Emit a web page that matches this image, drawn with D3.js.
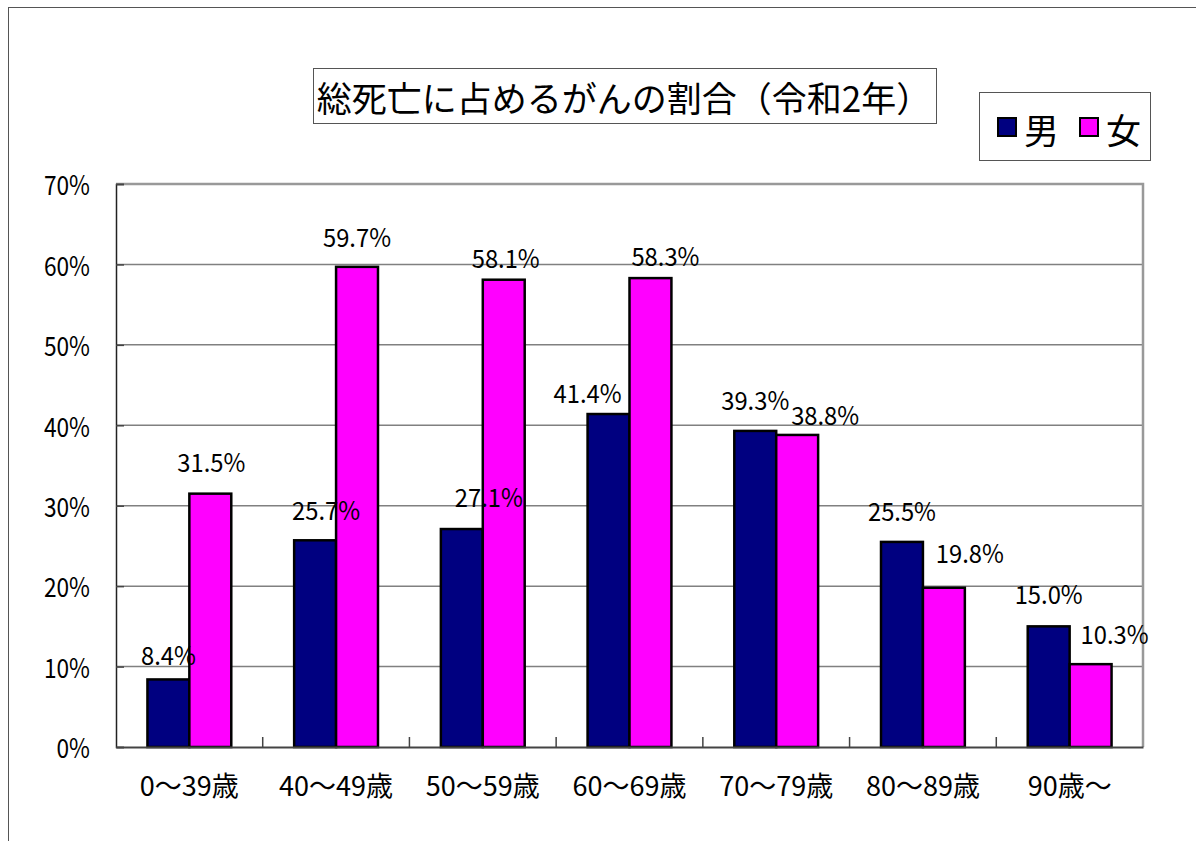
<!DOCTYPE html>
<html>
<head>
<meta charset="utf-8">
<script src="https://cdn.jsdelivr.net/npm/d3@7"></script>
<style>
  body { margin: 0; background: #fff; }
  svg { display: block; font-family: "Noto Sans CJK JP", sans-serif; }
</style>
</head>
<body>
<svg id="chart" width="1196" height="841"></svg>
<script>
// data
const ageGroups = ['0～39歳', '40～49歳', '50～59歳', '60～69歳', '70～79歳', '80～89歳', '90歳～'];
const seriesNames = ['男', '女'];
const maleShare = [8.4, 25.7, 27.1, 41.4, 39.3, 25.5, 15.0];
const femaleShare = [31.5, 59.7, 58.1, 58.3, 38.8, 19.8, 10.3];
const yTicks = [0, 10, 20, 30, 40, 50, 60, 70];
const titleText = '総死亡に占めるがんの割合（令和2年）';

const colors = { '男': '#000080', '女': '#ff00ff' };

// labels were nudged by hand in the original, [dx, gap above bar]
const labelNudge = {
  '男': [[0, 14], [11, 20], [27, 22], [-21, 11], [0, 21], [0, 21], [0, 22]],
  '女': [[1, 22], [0, 20], [2, 12], [15, 12], [28, 10], [26, 25], [24, 20]]
};

// the original font has narrow digits, squeeze ours a bit
function squeeze(sel, k) {
  sel.each(function () {
    const len = this.getComputedTextLength();
    d3.select(this)
      .attr('textLength', len * k)
      .attr('lengthAdjust', 'spacingAndGlyphs');
  });
}

const svg = d3.select('#chart');

// outer frame (only top and left edge visible)
svg.append('line').attr('x1', 8).attr('y1', 7.5).attr('x2', 1196).attr('y2', 7.5)
  .style('stroke', '#555').style('stroke-width', 1);
svg.append('line').attr('x1', 8.5).attr('y1', 7).attr('x2', 8.5).attr('y2', 841)
  .style('stroke', '#555').style('stroke-width', 1);

const plot = { left: 116, right: 1143, top: 184, bottom: 747 };

const x = d3.scaleBand()
  .domain(ageGroups)
  .range([plot.left, plot.right])
  .padding(0);
const xSeries = d3.scaleBand()
  .domain(seriesNames)
  .range([0, x.bandwidth()])
  .paddingInner(0)
  .paddingOuter(0.75);
const y = d3.scaleLinear()
  .domain([0, 70])
  .range([plot.bottom, plot.top]);

// gridlines
svg.append('g').selectAll('line')
  .data(yTicks.filter(t => t > 0 && t < 70))
  .enter().append('line')
  .attr('x1', plot.left).attr('x2', plot.right)
  .attr('y1', d => y(d)).attr('y2', d => y(d))
  .style('stroke', '#808080')
  .style('stroke-width', 1.5);

// top / right border of plot area
svg.append('path')
  .attr('d', `M${plot.left},${plot.top}H${plot.right}V${plot.bottom}`)
  .style('fill', 'none')
  .style('stroke', '#999')
  .style('stroke-width', 2.5);

// y axis
const yAxis = d3.axisLeft(y)
  .tickValues(yTicks)
  .tickSize(-8)
  .tickPadding(26)
  .tickFormat(d => d + '%');
svg.append('g')
  .attr('transform', `translate(${plot.left},0)`)
  .call(yAxis)
  .call(g => g.select('.domain').style('stroke', '#222').style('stroke-width', 1.5))
  .call(g => g.selectAll('.tick line').style('stroke', '#444').style('stroke-width', 1.5))
  .call(g => g.selectAll('.tick text')
    .attr('dy', '0.4em')
    .style('font-family', '"Noto Sans CJK JP", sans-serif')
    .style('font-size', '27px')
    .style('fill', '#000')
    .call(squeeze, 0.84));

// bars
const groups = svg.append('g').selectAll('g')
  .data(ageGroups)
  .enter().append('g')
  .attr('transform', d => `translate(${x(d)},0)`);

const barData = (d, i) => seriesNames.map(s => ({
  series: s,
  value: s === '男' ? maleShare[i] : femaleShare[i],
  nudge: labelNudge[s][i]
}));

groups.selectAll('rect')
  .data(barData)
  .enter().append('rect')
  .attr('x', d => xSeries(d.series))
  .attr('y', d => y(d.value))
  .attr('width', xSeries.bandwidth())
  .attr('height', d => y(0) - y(d.value))
  .attr('fill', d => colors[d.series])
  .style('stroke', '#000')
  .style('stroke-width', 2.5);

groups.selectAll('text')
  .data(barData)
  .enter().append('text')
  .attr('x', d => xSeries(d.series) + xSeries.bandwidth() / 2 + d.nudge[0])
  .attr('y', d => y(d.value) - d.nudge[1])
  .attr('text-anchor', 'middle')
  .style('font-size', '25px')
  .text(d => d.value.toFixed(1) + '%')
  .call(squeeze, 0.95);

// x axis
const xAxis = d3.axisBottom(x)
  .tickSize(0)
  .tickPadding(30);
svg.append('g')
  .attr('transform', `translate(0,${plot.bottom})`)
  .call(xAxis)
  .call(g => g.select('.domain').style('stroke', '#444').style('stroke-width', 2))
  .call(g => g.selectAll('.tick text')
    .style('font-family', '"Noto Sans CJK JP", sans-serif')
    .style('font-size', '27px')
    .style('fill', '#000'));

// category separator ticks, pointing up into the plot
svg.append('g').selectAll('line')
  .data(ageGroups.slice(1))
  .enter().append('line')
  .attr('x1', d => x(d)).attr('x2', d => x(d))
  .attr('y1', plot.bottom).attr('y2', plot.bottom - 10)
  .style('stroke', '#444')
  .style('stroke-width', 1.5);

// title box
svg.append('rect')
  .attr('x', 313.5).attr('y', 68.5).attr('width', 623).attr('height', 55)
  .attr('fill', '#fff')
  .style('stroke', '#555');
svg.append('text')
  .attr('x', 624).attr('y', 96)
  .attr('text-anchor', 'middle')
  .attr('dominant-baseline', 'central')
  .style('font-size', '35px')
  .text(titleText);

// legend
const legend = svg.append('g');
legend.append('rect')
  .attr('x', 979.5).attr('y', 92.5).attr('width', 171).attr('height', 68)
  .attr('fill', '#fff')
  .style('stroke', '#555');
const legendItem = legend.selectAll('g.item')
  .data(seriesNames)
  .enter().append('g')
  .attr('class', 'item')
  .attr('transform', (d, i) => `translate(${998 + i * 82},0)`);
legendItem.append('rect')
  .attr('x', 0).attr('y', 118).attr('width', 18).attr('height', 18)
  .attr('fill', d => colors[d])
  .style('stroke', '#000')
  .style('stroke-width', 2);
legendItem.append('text')
  .attr('x', 26).attr('y', 128)
  .attr('dominant-baseline', 'central')
  .style('font-size', '35px')
  .text(d => d);
</script>
</body>
</html>
